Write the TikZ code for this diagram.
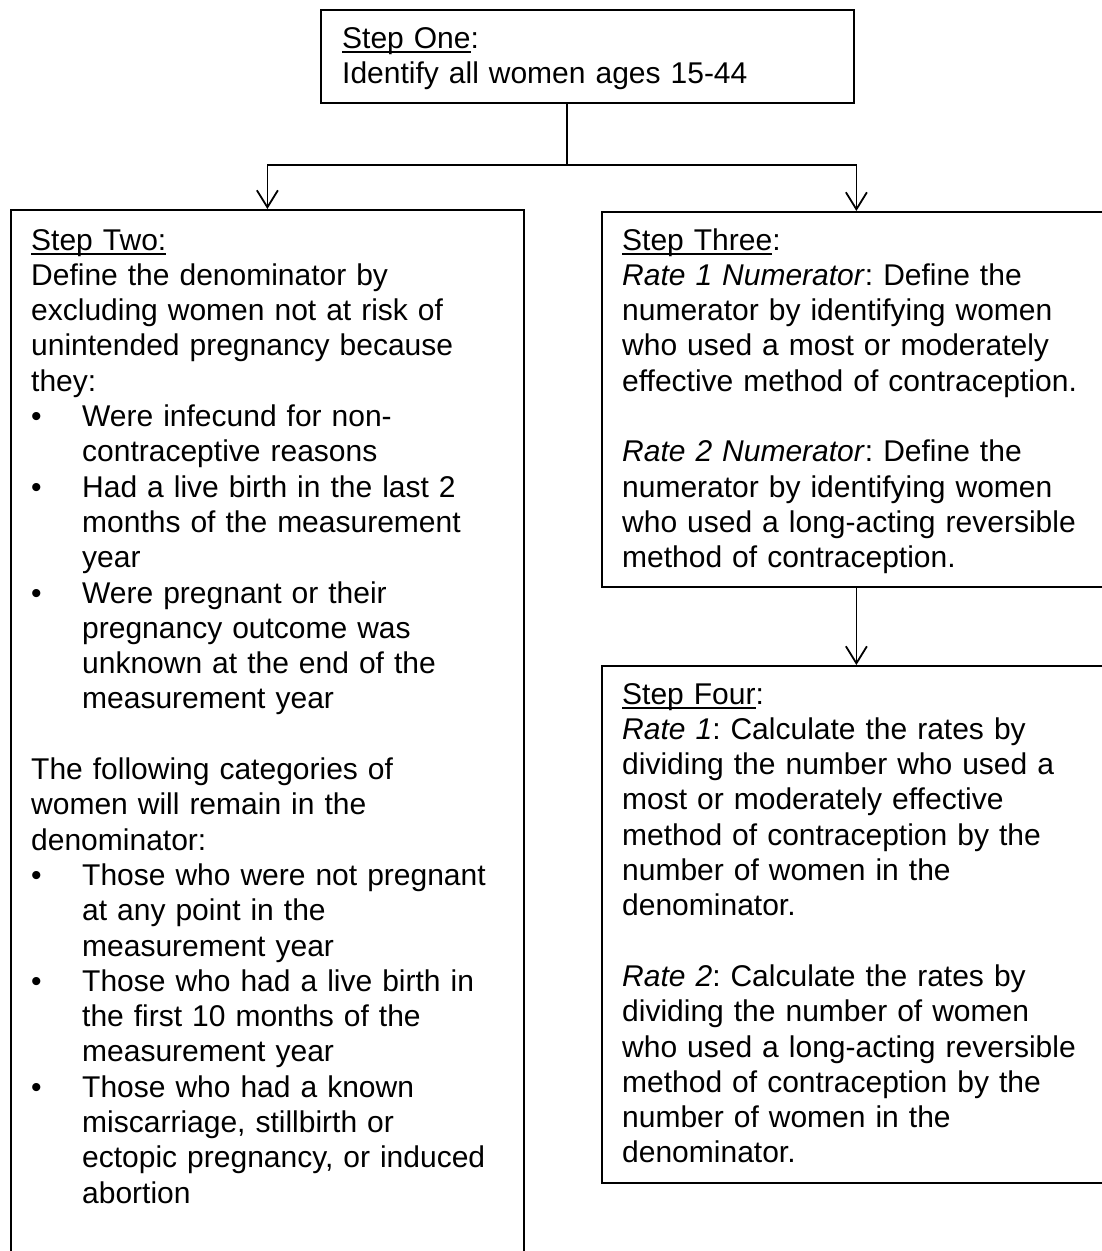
\documentclass[tikz,border=0pt]{standalone}
\usepackage{fontspec}
\setmainfont{Liberation Sans}
\usetikzlibrary{arrows.meta,calc}
\newcommand\ulx[1]{\setbox0\hbox{#1}\rlap{\rule[-4.5pt]{\wd0}{2pt}}\box0}
\newcommand\bul{\makebox[51pt][l]{\textbullet}}
\newcommand\ind{\makebox[51pt][l]{}}
\newcommand\blank{\mbox{}}
\tikzset{
  box/.style={draw=black, line width=1.8pt, inner sep=0pt, anchor=north west, fill=none},
  txt/.style={anchor=base west, inner sep=0pt, text width=#1, align=left,
              font=\fontsize{30}{35.3}\selectfont\frenchspacing},
  arr/.style={line width=1.8pt, -{Straight Barb[length=17pt,width=21pt,line width=1.8pt]}},
  con/.style={line width=1.8pt}
}
\begin{document}
\begin{tikzpicture}[x=1pt,y=-1pt]
\useasboundingbox (0,0) rectangle (1101,1251);
\fill[white] (0,0) rectangle (1101,1251);
% boxes
\node[box, minimum width=533pt, minimum height=93pt] (s1) at (320,9) {};
\node[box, minimum width=513pt, minimum height=1060pt] (s2) at (10,209) {};
\node[box, minimum width=509pt, minimum height=375pt] (s3) at (601,211) {};
\node[box, minimum width=509pt, minimum height=517pt] (s4) at (601,665) {};
% texts
\node[txt=500pt] (t1) at (342,48) {\ulx{Step One}:\\Identify all women ages 15-44};
\node[txt=490pt] (t2) at (31,250) {\ulx{Step Two:}\\
Define the denominator by\\
excluding women not at risk of\\
unintended pregnancy because\\
they:\\
\bul Were infecund for non-\\
\ind contraceptive reasons\\
\bul Had a live birth in the last 2\\
\ind months of the measurement\\
\ind year\\
\bul Were pregnant or their\\
\ind pregnancy outcome was\\
\ind unknown at the end of the\\
\ind measurement year\\
\blank\\
The following categories of\\
women will remain in the\\
denominator:\\
\bul Those who were not pregnant\\
\ind at any point in the\\
\ind measurement year\\
\bul Those who had a live birth in\\
\ind the first 10 months of the\\
\ind measurement year\\
\bul Those who had a known\\
\ind miscarriage, stillbirth or\\
\ind ectopic pregnancy, or induced\\
\ind abortion};
\node[txt=480pt] (t3) at (622,250) {\ulx{Step Three}:\\
\textit{Rate 1 Numerator}: Define the\\
numerator by identifying women\\
who used a most or moderately\\
effective method of contraception.\\
\blank\\
\textit{Rate 2 Numerator}: Define the\\
numerator by identifying women\\
who used a long-acting reversible\\
method of contraception.};
\node[txt=480pt] (t4) at (622,704) {\ulx{Step Four}:\\
\textit{Rate 1}: Calculate the rates by\\
dividing the number who used a\\
most or moderately effective\\
method of contraception by the\\
number of women in the\\
denominator.\\
\blank\\
\textit{Rate 2}: Calculate the rates by\\
dividing the number of women\\
who used a long-acting reversible\\
method of contraception by the\\
number of women in the\\
denominator.};
% connectors
\coordinate (j) at (567,165);
\draw[con] (s1.south -| j) -- (j);
\draw[arr] (j) -| (s2.north);
\draw[arr] (j) -| (s3.north);
\draw[arr] (s3.south) -- (s4.north);
\end{tikzpicture}
\end{document}
